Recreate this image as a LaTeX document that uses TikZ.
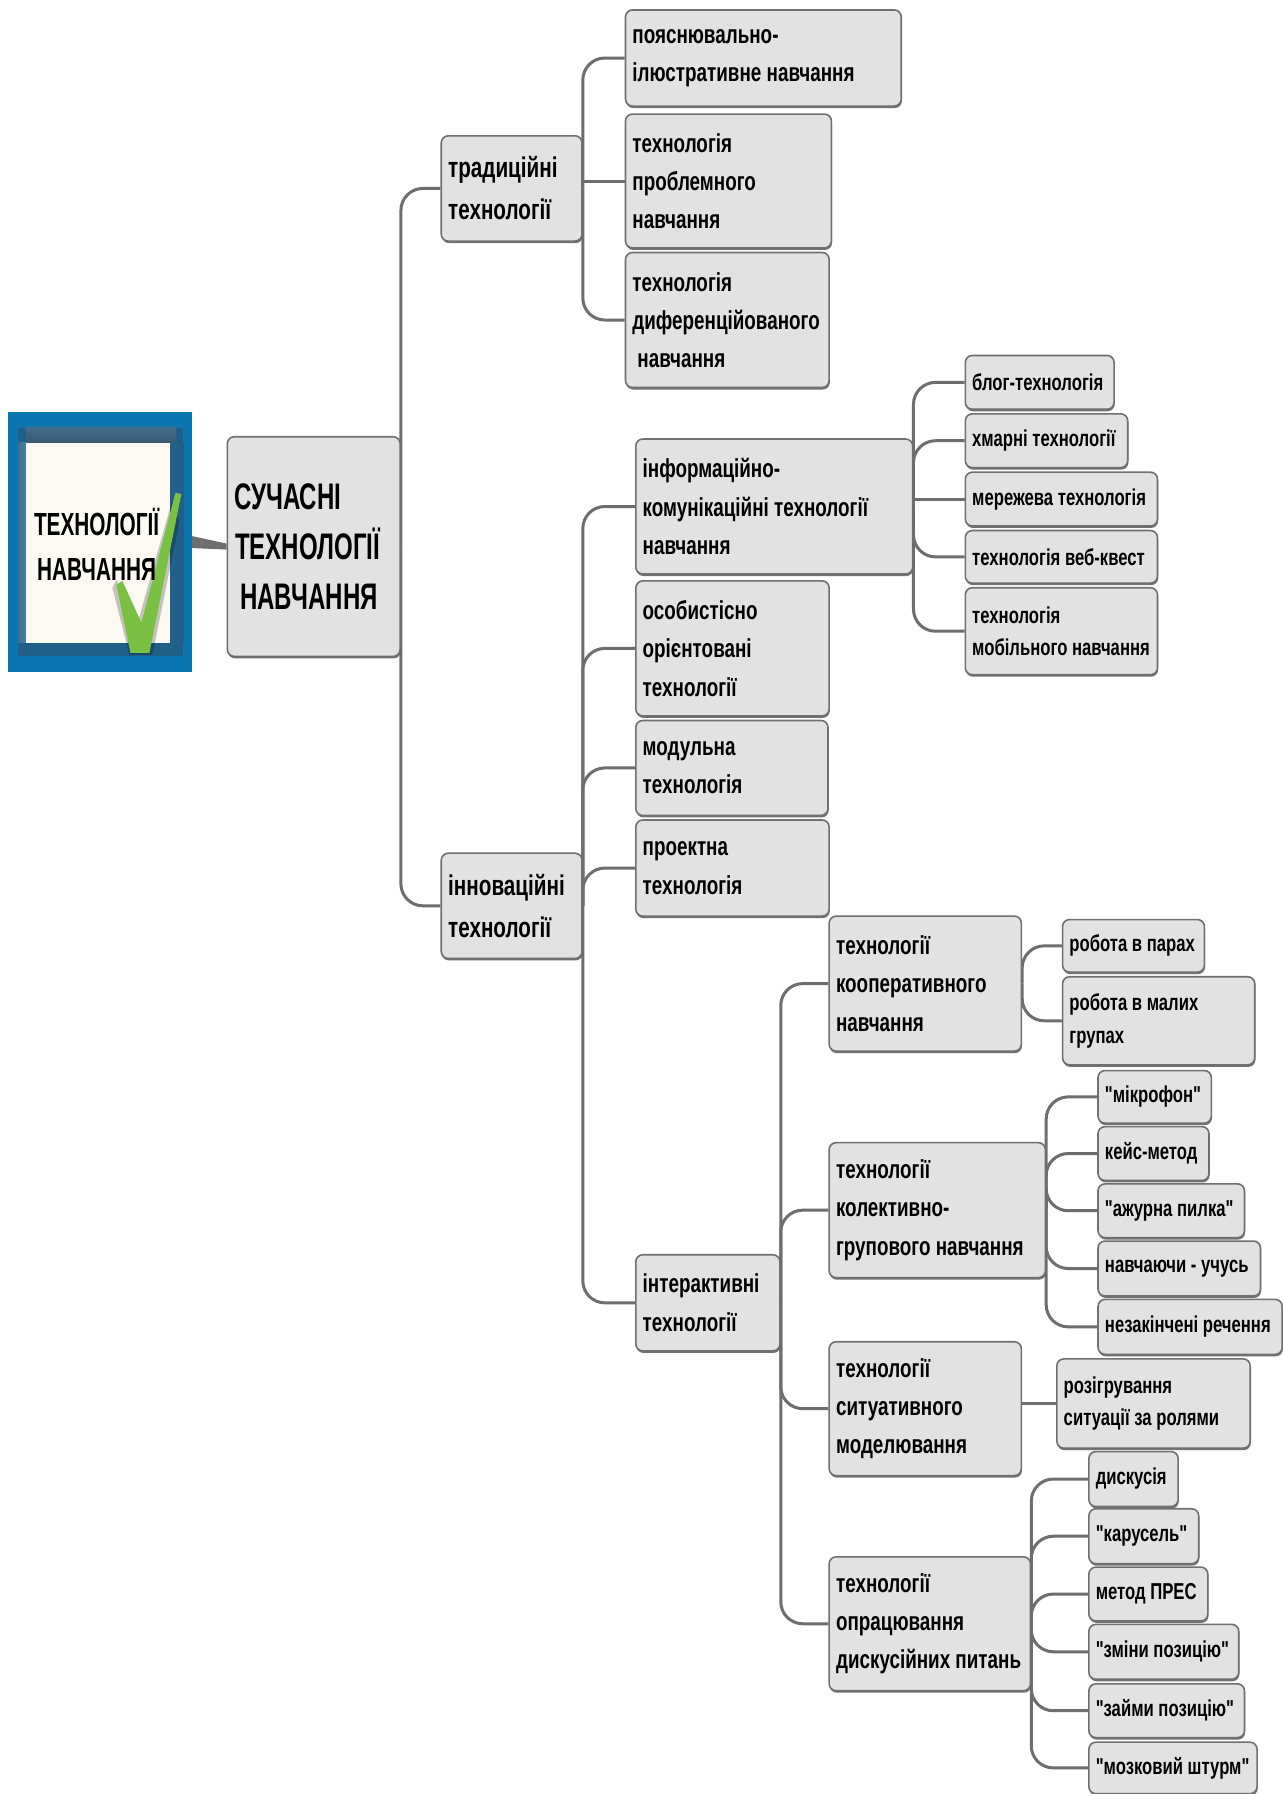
\documentclass[tikz,border=0pt]{standalone}
\usepackage{fontspec}
\newfontfamily\bodyfont{Liberation Sans}[FakeStretch=0.725]
\newfontfamily\capsfont{Liberation Sans Bold}[FakeStretch=0.65]
\usetikzlibrary{shadows,backgrounds}
\definecolor{boxfill}{HTML}{E2E2E2}
\definecolor{boxline}{HTML}{707070}
\definecolor{edgecol}{HTML}{6E6E6E}
\definecolor{frameblue}{HTML}{0B76B0}
\definecolor{walldark}{HTML}{1F5F88}
\definecolor{wallmid}{HTML}{4F7FA0}
\definecolor{cream}{HTML}{FBF9F2}
\definecolor{checkgreen}{HTML}{7AC143}
\tikzset{
  box/.style={draw=boxline,line width=1.6pt,fill=boxfill,rounded corners=7pt,inner ysep=0pt,inner xsep=0pt,
    anchor=north west,align=left,
    drop shadow={shadow xshift=0.6pt,shadow yshift=-2pt,fill=black!65,opacity=0.85}},
  link/.style={draw=edgecol,line width=3pt,rounded corners=22pt},
  fxl/.style={font=\capsfont\fontsize{37}{50}\selectfont},
  fl/.style={font=\bodyfont\bfseries\fontsize{28.5}{42}\selectfont},
  fm/.style={font=\bodyfont\bfseries\fontsize{26}{38.3}\selectfont},
  fs/.style={font=\bodyfont\bfseries\fontsize{23}{32.5}\selectfont},
}
\newcommand{\bx}[7][8]{%
  \pgfmathsetmacro{\mybw}{(#5-#3)*1.14451}%
  \pgfmathsetmacro{\mybh}{(#6-#4)*1.14451}%
  \pgfmathsetmacro{\mytw}{\mybw-#1}%
  \node[box,#2,minimum width=\mybw pt,minimum height=\mybh pt,text width=\mytw pt] (#7) at (#3,#4) {};%
}
\newcommand{\tx}[3]{\node[anchor=west,inner sep=0pt,align=left,#2] at ([xshift=7.5pt]#1.west) {#3};}
\begin{document}
\begin{tikzpicture}[x=1.14451pt,y=-1.14451pt]
\useasboundingbox (0,0) rectangle (1121,1568);
% image block
\node[draw=none,fill=frameblue,anchor=north west,inner sep=0pt,minimum width=184pt,minimum height=260pt] (img) at (6.5,360) {};
\fill[walldark] (img.north west)+(11pt,-16pt) rectangle +(176pt,-244pt);
\shade[top color=wallmid,bottom color=wallmid!70!black] (img.north west)+(19pt,-16pt) rectangle +(168pt,-31pt);
\shade[left color=wallmid,right color=walldark] (img.north west)+(163pt,-31pt) rectangle +(176pt,-231pt);
\shade[left color=walldark,right color=wallmid] (img.north west)+(11pt,-31pt) rectangle +(19pt,-231pt);
\fill[cream] (img.north west)+(19pt,-31pt) rectangle +(163pt,-231pt);
\fill[black,opacity=.22] (img.north west)+(105pt,-176pt) -- +(109pt,-168pt) -- +(130pt,-212pt) -- +(165pt,-88pt) -- +(172pt,-110pt) -- +(145pt,-243pt) -- +(122pt,-243pt) -- cycle;
\fill[checkgreen] (img.north west)+(109pt,-173pt) -- +(115pt,-169pt) -- +(134pt,-211pt) -- +(168pt,-81pt) -- +(174pt,-82pt) -- +(142pt,-241pt) -- +(123pt,-241pt) -- cycle;
\node[anchor=center,align=center,inner sep=0pt,font=\capsfont\fontsize{32}{45}\selectfont] (imgtext) at ([xshift=-3pt,yshift=-2pt]img.center) {ТЕХНОЛОГІЇ\\НАВЧАННЯ};
% boxes
\bx{fxl}{198}{381}{349}{573}{central}
\bx{fl}{385}{118}{508}{210}{trad}
\bx{fl}{385}{745}{508}{837}{innov}
\bx{fm}{546}{8}{787}{92}{pa}
\bx{fm}{546}{99}{726}{216}{pb}
\bx{fm}{546}{220}{724}{338}{pc}
\bx{fm}{555}{383}{797}{501}{ia}
\bx{fm}{555}{507}{724}{625}{ib}
\bx{fm}{555}{629}{723}{712}{ic}
\bx{fm}{555}{716}{724}{800}{id}
\bx{fm}{555}{1096}{681}{1180}{ie}
\bx{fs}{843}{310}{973}{357}{la}
\bx{fs}{843}{361}{985}{408}{lb}
\bx{fs}{843}{412}{1011}{459}{lc}
\bx{fs}{843}{463}{1011}{509}{ld}
\bx{fs}{843}{513}{1011}{589}{le}
\bx{fm}{724}{800}{892}{918}{ta}
\bx{fm}{724}{998}{913}{1116}{tb}
\bx{fm}{724}{1172}{892}{1289}{tc}
\bx{fm}{724}{1360}{900}{1477}{td}
\bx{fs}{928}{803}{1052}{849}{aa}
\bx{fs}{928}{853}{1096}{930}{ab}
\bx{fs}{959}{935}{1058}{981}{ba}
\bx{fs}{959}{984}{1056}{1031}{bb}
\bx{fs}{959}{1034}{1087}{1081}{bc}
\bx{fs}{959}{1084}{1101}{1132}{bd}
\bx{fs}{959}{1135}{1120}{1183}{be}
\bx{fs}{923}{1187}{1092}{1265}{ca}
\bx{fs}{951}{1268}{1029}{1316}{da}
\bx{fs}{951}{1318}{1047}{1366}{db}
\bx{fs}{951}{1369}{1055}{1416}{dc}
\bx{fs}{951}{1419}{1082}{1467}{dd}
\bx{fs}{951}{1471}{1087}{1518}{de}
\bx{fs}{951}{1522}{1098}{1567}{df}
% texts
\tx{central}{fxl}{СУЧАСНІ\\[0pt]\hspace{1pt}ТЕХНОЛОГІЇ\\\hspace{6pt}НАВЧАННЯ}
\tx{trad}{fl}{традиційні\\технології}
\tx{innov}{fl}{інноваційні\\технології}
\tx{pa}{fm}{пояснювально-\\ілюстративне навчання}
\tx{pb}{fm}{технологія\\проблемного\\навчання}
\tx{pc}{fm}{технологія\\диференційованого\\\hspace{5pt}навчання}
\tx{ia}{fm}{інформаційно-\\комунікаційні технології\\навчання}
\tx{ib}{fm}{особистісно\\орієнтовані\\технології}
\tx{ic}{fm}{модульна\\технологія}
\tx{id}{fm}{проектна\\технологія}
\tx{ie}{fm}{інтерактивні\\технології}
\tx{la}{fs}{блог-технологія}
\tx{lb}{fs}{хмарні технології}
\tx{lc}{fs}{мережева технологія}
\tx{ld}{fs}{технологія веб-квест}
\tx{le}{fs}{технологія\\мобільного навчання}
\tx{ta}{fm}{технології\\кооперативного\\навчання}
\tx{tb}{fm}{технології\\колективно-\\групового навчання}
\tx{tc}{fm}{технології\\ситуативного\\моделювання}
\tx{td}{fm}{технології\\опрацювання\\дискусійних питань}
\tx{aa}{fs}{робота в парах}
\tx{ab}{fs}{робота в малих\\групах}
\tx{ba}{fs}{"мікрофон"}
\tx{bb}{fs}{кейс-метод}
\tx{bc}{fs}{"ажурна пилка"}
\tx{bd}{fs}{навчаючи - учусь}
\tx{be}{fs}{незакінчені речення}
\tx{ca}{fs}{розігрування\\ситуації за ролями}
\tx{da}{fs}{дискусія}
\tx{db}{fs}{"карусель"}
\tx{dc}{fs}{метод ПРЕС}
\tx{dd}{fs}{"зміни позицію"}
\tx{de}{fs}{"займи позицію"}
\tx{df}{fs}{"мозковий штурм"}
% connectors
\begin{scope}[on background layer]
\fill[white] (0,0) rectangle (1121,1568);
\fill[edgecol] ([yshift=6pt]img.east) -- ([yshift=3pt]central.west) -- ([yshift=-3pt]central.west) -- ([yshift=-6pt]img.east) -- cycle;
\foreach \p/\c in {central/trad,central/innov,
  trad/pa,trad/pc,
  innov/ia,innov/ib,innov/ic,innov/id,innov/ie,
  ia/la,ia/lb,ia/ld,ia/le,
  ie/ta,ie/tb,ie/tc,ie/td,
  ta/aa,ta/ab,
  tb/ba,tb/bb,tb/bc,tb/bd,tb/be,
  td/da,td/db,td/dc,td/dd,td/de,td/df}
  \draw[link] (\p.east) |- (\c.west);
\foreach \p/\c in {trad/pb,ia/lc,tc/ca}
  \draw[link] (\p.east |- \c.west) -- (\c.west);
\end{scope}
\end{tikzpicture}
\end{document}
